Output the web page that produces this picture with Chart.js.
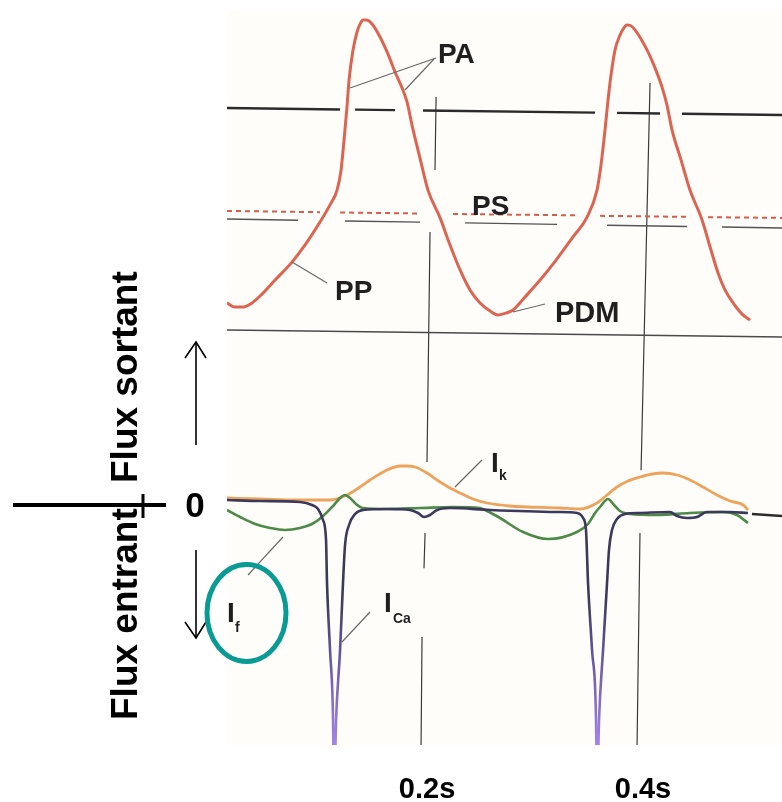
<!DOCTYPE html>
<html>
<head>
<meta charset="utf-8">
<script src="https://cdn.jsdelivr.net/npm/chart.js"></script>
<style>
  html, body { margin: 0; padding: 0; background: #ffffff; }
  #wrap { position: absolute; left: 0; top: 0; width: 782px; height: 802px; }
  #overlay { position: absolute; left: 0; top: 0; width: 782px; height: 802px; pointer-events: none; }
  #overlay text { font-family: "Liberation Sans", Arial, sans-serif; font-weight: bold; }
</style>
</head>
<body>
<div id="wrap"><canvas id="c"></canvas></div>
<svg id="overlay" width="782" height="802" viewBox="0 0 782 802">
  <!-- left axis decoration -->
  <line x1="13" y1="505" x2="166" y2="505" stroke="#000" stroke-width="4"/>
  <line x1="143" y1="494" x2="143" y2="518" stroke="#000" stroke-width="3"/>
  <text transform="translate(137,483) rotate(-90)" font-size="37" fill="#000">Flux sortant</text>
  <text transform="translate(137,720) rotate(-90)" font-size="37" fill="#000">Flux entrant</text>
  <text x="195" y="517" font-size="35" text-anchor="middle" fill="#000">0</text>
  <!-- arrows -->
  <line x1="196" y1="445" x2="196" y2="343" stroke="#000" stroke-width="1.6"/>
  <polyline points="185,358 196,342 206,358" fill="none" stroke="#000" stroke-width="1.6"/>
  <line x1="196" y1="550" x2="196" y2="637" stroke="#000" stroke-width="1.6"/>
  <polyline points="185,622 196,638 206,622" fill="none" stroke="#000" stroke-width="1.6"/>
  <!-- pointer lines -->
  <g stroke="#6a6a6a" stroke-width="1.2">
    <line x1="436" y1="58" x2="350" y2="88"/>
    <line x1="434" y1="59" x2="405" y2="90"/>
    <line x1="292" y1="262" x2="327" y2="283"/>
    <line x1="513" y1="312" x2="545" y2="304"/>
    <line x1="482" y1="460" x2="455" y2="487"/>
    <line x1="283" y1="537" x2="248" y2="575"/>
    <line x1="370" y1="612" x2="342" y2="642"/>
  </g>
  <!-- labels -->
  <g fill="#1f1f1f">
    <text x="438" y="63" font-size="28">PA</text>
    <text x="472" y="215" font-size="28">PS</text>
    <text x="335" y="300" font-size="28">PP</text>
    <text x="555" y="322" font-size="29">PDM</text>
    <text x="491" y="472" font-size="28">I</text>
    <text x="499" y="480" font-size="14">k</text>
    <text x="227" y="622" font-size="28">I</text>
    <text x="235" y="632" font-size="14">f</text>
    <text x="384" y="612" font-size="28">I</text>
    <text x="393" y="623" font-size="14">Ca</text>
  </g>
  <ellipse cx="246.5" cy="613" rx="39.5" ry="48.5" fill="none" stroke="#0a9a94" stroke-width="5"/>
</svg>
<script>
// ---- time axis (ms) ----
const xTicks = [200, 400];
const tickLabels = ['0.2s', '0.4s'];

// ---- membrane potential (mV, arbitrary reference) ----
const apTime = [12.0,19.4,25.9,35.2,44.4,56.5,72.2,84.3,98.1,107.4,113.9,117.6,120.4,123.1,125.0,128.7,132.4,135.5,138.0,141.0,146.3,153.7,161.1,167.6,174.1,178.7,183.3,190.7,198.1,209.3,218.5,227.8,237.0,246.3,255.6,263.0,270.4,276.9,288.0,301.9,316.7,332.4,345.4,354.6,358.3,362.0,364.8,367.6,371.3,375.9,379.5,382.4,385.5,389.8,400.9,408.3,414.8,419.4,424.1,432.4,440.7,451.9,459.3,466.7,473.1,480.6,488.9,496.3];
const apMv = [-74.2,-75.8,-75.8,-74.2,-70.8,-65.4,-58.5,-51.9,-43.1,-36.5,-30.8,-23.1,-11.5,1.2,11.5,23.1,30.0,33.3,34.6,34.6,33.1,28.1,21.5,14.6,8.5,3.1,-5.8,-18.5,-30.8,-41.5,-51.9,-61.5,-69.2,-74.2,-77.3,-78.8,-78.1,-76.9,-71.9,-65.4,-57.7,-48.8,-41.2,-30.8,-21.2,-7.7,3.8,13.5,23.1,28.8,31.6,32.7,32.5,30.8,23.1,16.2,8.8,1.9,-7.7,-19.2,-30.8,-42.3,-52.7,-62.7,-69.2,-74.2,-78.5,-80.8];

// ---- reference levels (null = gap) ----
const paLineT = [12.0,116.7,null,130.6,167.6,null,193.5,352.8,null,373.1,413.0,null,433.3,525.9];
const paLineV = [0.77,0.22,null,0.14,-0.04,null,-0.18,-1.0,null,-1.1,-1.35,null,-1.45,-1.92];
const psLineT = [12.0,98.1,null,116.7,190.7,null,221.3,336.1,null,357.4,440.7,null,457.4,525.9];
const psLineV = [-38.8,-39.3,null,-39.4,-39.8,null,-40.0,-40.5,null,-40.7,-41.1,null,-41.2,-41.5];
const psSubT = [12.0,77.8,null,121.3,190.7,null,232.4,317.6,null,363.9,437.9,null,470.4,525.9];
const psSubV = [-41.9,-42.4,null,-42.7,-43.1,null,-43.4,-44.0,null,-44.3,-44.8,null,-45.0,-45.4];
const baseT = [12.0,525.9];
const baseV = [-84.6,-87.3];
const vLine1T = [205.6,204.6,null,200.0,197.2,null,195.4,194.4,null,192.6,191.7];
const vLine1V = [5.0,-23.1,null,-46.9,-135.4,null,-162.7,-176.2,null,-202.7,-244.2];
const vLine2T = [403.7,395.4,null,394.4,391.7];
const vLine2V = [10.4,-138.5,null,-162.7,-244.2];

// ---- ionic currents (arbitrary units, outward > 0) ----
const ikTime = [12.0,42.6,79.6,107.4,123.1,135.2,144.4,160.2,172.2,178.7,186.1,197.2,209.3,218.5,227.8,239.8,252.8,274.1,320.4,338.9,354.6,363.9,373.1,383.3,394.4,405.6,415.7,428.7,440.7,452.8,465.7,477.8,490.0,494.4];
const ikVal = [0.0,-0.2,-0.4,-0.4,0.6,2.2,3.6,5.6,6.4,6.4,6.2,5.0,3.2,2.0,1.0,-0.2,-1.0,-1.6,-2.0,-2.2,-1.0,0.6,2.2,3.4,4.2,4.8,5.0,4.6,3.6,2.2,0.6,-0.6,-1.4,-2.4];
const ifTime = [12.0,24.1,38.0,51.9,65.7,79.6,90.7,100.0,110.2,116.7,121.3,125.9,131.5,138.0,160.2,190.7,221.3,246.3,252.8,264.8,286.1,309.3,336.1,346.3,352.8,357.4,364.8,370.4,375.9,385.2,410.2,440.7,471.3,484.3,494.4];
const ifVal = [-2.4,-3.8,-5.2,-6.0,-6.4,-6.0,-5.2,-3.8,-1.6,0.0,0.6,0.0,-1.2,-2.0,-2.2,-2.0,-1.8,-2.0,-2.6,-4.0,-6.8,-8.2,-6.8,-5.2,-3.0,-1.8,-0.2,-1.4,-2.6,-3.2,-3.4,-3.0,-2.8,-3.4,-5.0];
const icaTime = [12.0,42.6,79.6,90.7,96.3,100.9,103.7,104.6,107.4,110.2,111.1,113.0,116.7,119.4,121.3,125.0,130.6,138.0,160.2,181.5,188.9,194.4,200.0,206.5,218.5,255.6,317.6,336.1,341.7,344.4,346.3,350.0,353.7,354.6,356.5,360.2,363.9,365.7,368.5,373.1,380.6,394.4,422.2,428.7,438.0,447.2,456.5,477.8,494.4];
const icaVal = [-0.4,-0.6,-0.8,-1.4,-2.2,-4.4,-8.4,-17.0,-30.4,-44.4,-60.4,-44.4,-30.4,-17.0,-9.4,-5.4,-3.2,-2.4,-2.2,-2.4,-3.0,-3.8,-3.4,-2.4,-2.0,-2.4,-2.8,-3.0,-4.0,-6.4,-17.0,-30.4,-44.4,-60.4,-44.4,-30.4,-17.0,-10.4,-6.4,-4.2,-3.2,-3.0,-2.8,-3.6,-4.0,-3.8,-2.8,-2.8,-3.0];
const zeroDashT = [498.1,525.9];
const zeroDashV = [-3.2,-3.6];

function pts(ts, vs) {
  const out = [];
  let lastT = ts[0];
  for (let i = 0; i < ts.length; i++) {
    if (ts[i] !== null) lastT = ts[i];
    out.push({ x: lastT, y: vs[i] });
  }
  return out;
}

const bgPlugin = {
  id: 'bg',
  beforeDraw(chart) {
    const { ctx, chartArea: a } = chart;
    ctx.save();
    ctx.fillStyle = '#fefdfa';
    ctx.fillRect(a.left, a.top, a.right - a.left, a.bottom - a.top);
    ctx.restore();
  }
};

function refLine(ts, vs, color, width, dash, axis) {
  return {
    data: pts(ts, vs), yAxisID: axis || 'yV', borderColor: color, borderWidth: width,
    borderDash: dash || [], pointRadius: 0, tension: 0, spanGaps: false, order: 10
  };
}

new Chart(document.getElementById('c'), {
  type: 'line',
  data: {
    datasets: [
      {
        label: 'I_Ca', data: pts(icaTime, icaVal), yAxisID: 'yI',
        borderColor: (ctx) => {
          const ch = ctx.chart;
          if (!ch.chartArea || !ch.scales.yI) return '#3c3a5c';
          const y0 = ch.scales.yI.getPixelForValue(-20);
          const y1 = ch.scales.yI.getPixelForValue(-49);
          const g = ch.ctx.createLinearGradient(0, y0, 0, y1);
          g.addColorStop(0, '#3c3a5c');
          g.addColorStop(0.45, '#6b5aa6');
          g.addColorStop(1, '#a384e6');
          return g;
        },
        borderWidth: 2.6, pointRadius: 0, cubicInterpolationMode: 'monotone', order: 1
      },
      {
        label: 'I_f', data: pts(ifTime, ifVal), yAxisID: 'yI',
        borderColor: '#4d8a48', borderWidth: 2.6, pointRadius: 0, cubicInterpolationMode: 'monotone', order: 2
      },
      {
        label: 'I_k', data: pts(ikTime, ikVal), yAxisID: 'yI',
        borderColor: '#eea35c', borderWidth: 2.8, pointRadius: 0, cubicInterpolationMode: 'monotone', order: 3
      },
      {
        label: 'Potentiel', data: pts(apTime, apMv), yAxisID: 'yV',
        borderColor: '#dc6552', borderWidth: 3, pointRadius: 0, cubicInterpolationMode: 'monotone', order: 4
      },
      refLine(paLineT, paLineV, '#2b2b2b', 2.4),
      refLine(psLineT, psLineV, '#d65c4c', 2, [5, 4]),
      refLine(psSubT, psSubV, '#555555', 1.4),
      refLine(baseT, baseV, '#4a4a4a', 1.5),
      refLine(vLine1T, vLine1V, '#3a3a3a', 1.2),
      refLine(vLine2T, vLine2V, '#3a3a3a', 1.2),
      refLine(zeroDashT, zeroDashV, '#2b2b2b', 2.4, [], 'yI')
    ]
  },
  options: {
    responsive: true,
    maintainAspectRatio: false,
    animation: false,
    layout: { padding: { left: 227, right: 0, top: 10, bottom: 0 } },
    plugins: { legend: { display: false }, tooltip: { enabled: false } },
    scales: {
      x: {
        type: 'linear', min: 12.0, max: 525.9,
        grid: { display: false, drawTicks: false },
        border: { display: false },
        afterBuildTicks: (axis) => { axis.ticks = xTicks.map(v => ({ value: v })); },
        afterFit: (axis) => { axis.height = 57; },
        ticks: {
          padding: 30, labelOffset: -3, color: '#000',
          font: { family: '"Liberation Sans", Arial, sans-serif', size: 29, weight: 'bold', lineHeight: 1 },
          callback: (v) => { const i = xTicks.indexOf(v); return i >= 0 ? tickLabels[i] : ''; },
          maxRotation: 0, autoSkip: false
        }
      },
      yV: { type: 'linear', display: false, min: -244.2, max: 38.46 },
      yI: { type: 'linear', display: false, min: -49.4, max: 97.6 }
    }
  },
  plugins: [bgPlugin]
});
</script>
</body>
</html>
